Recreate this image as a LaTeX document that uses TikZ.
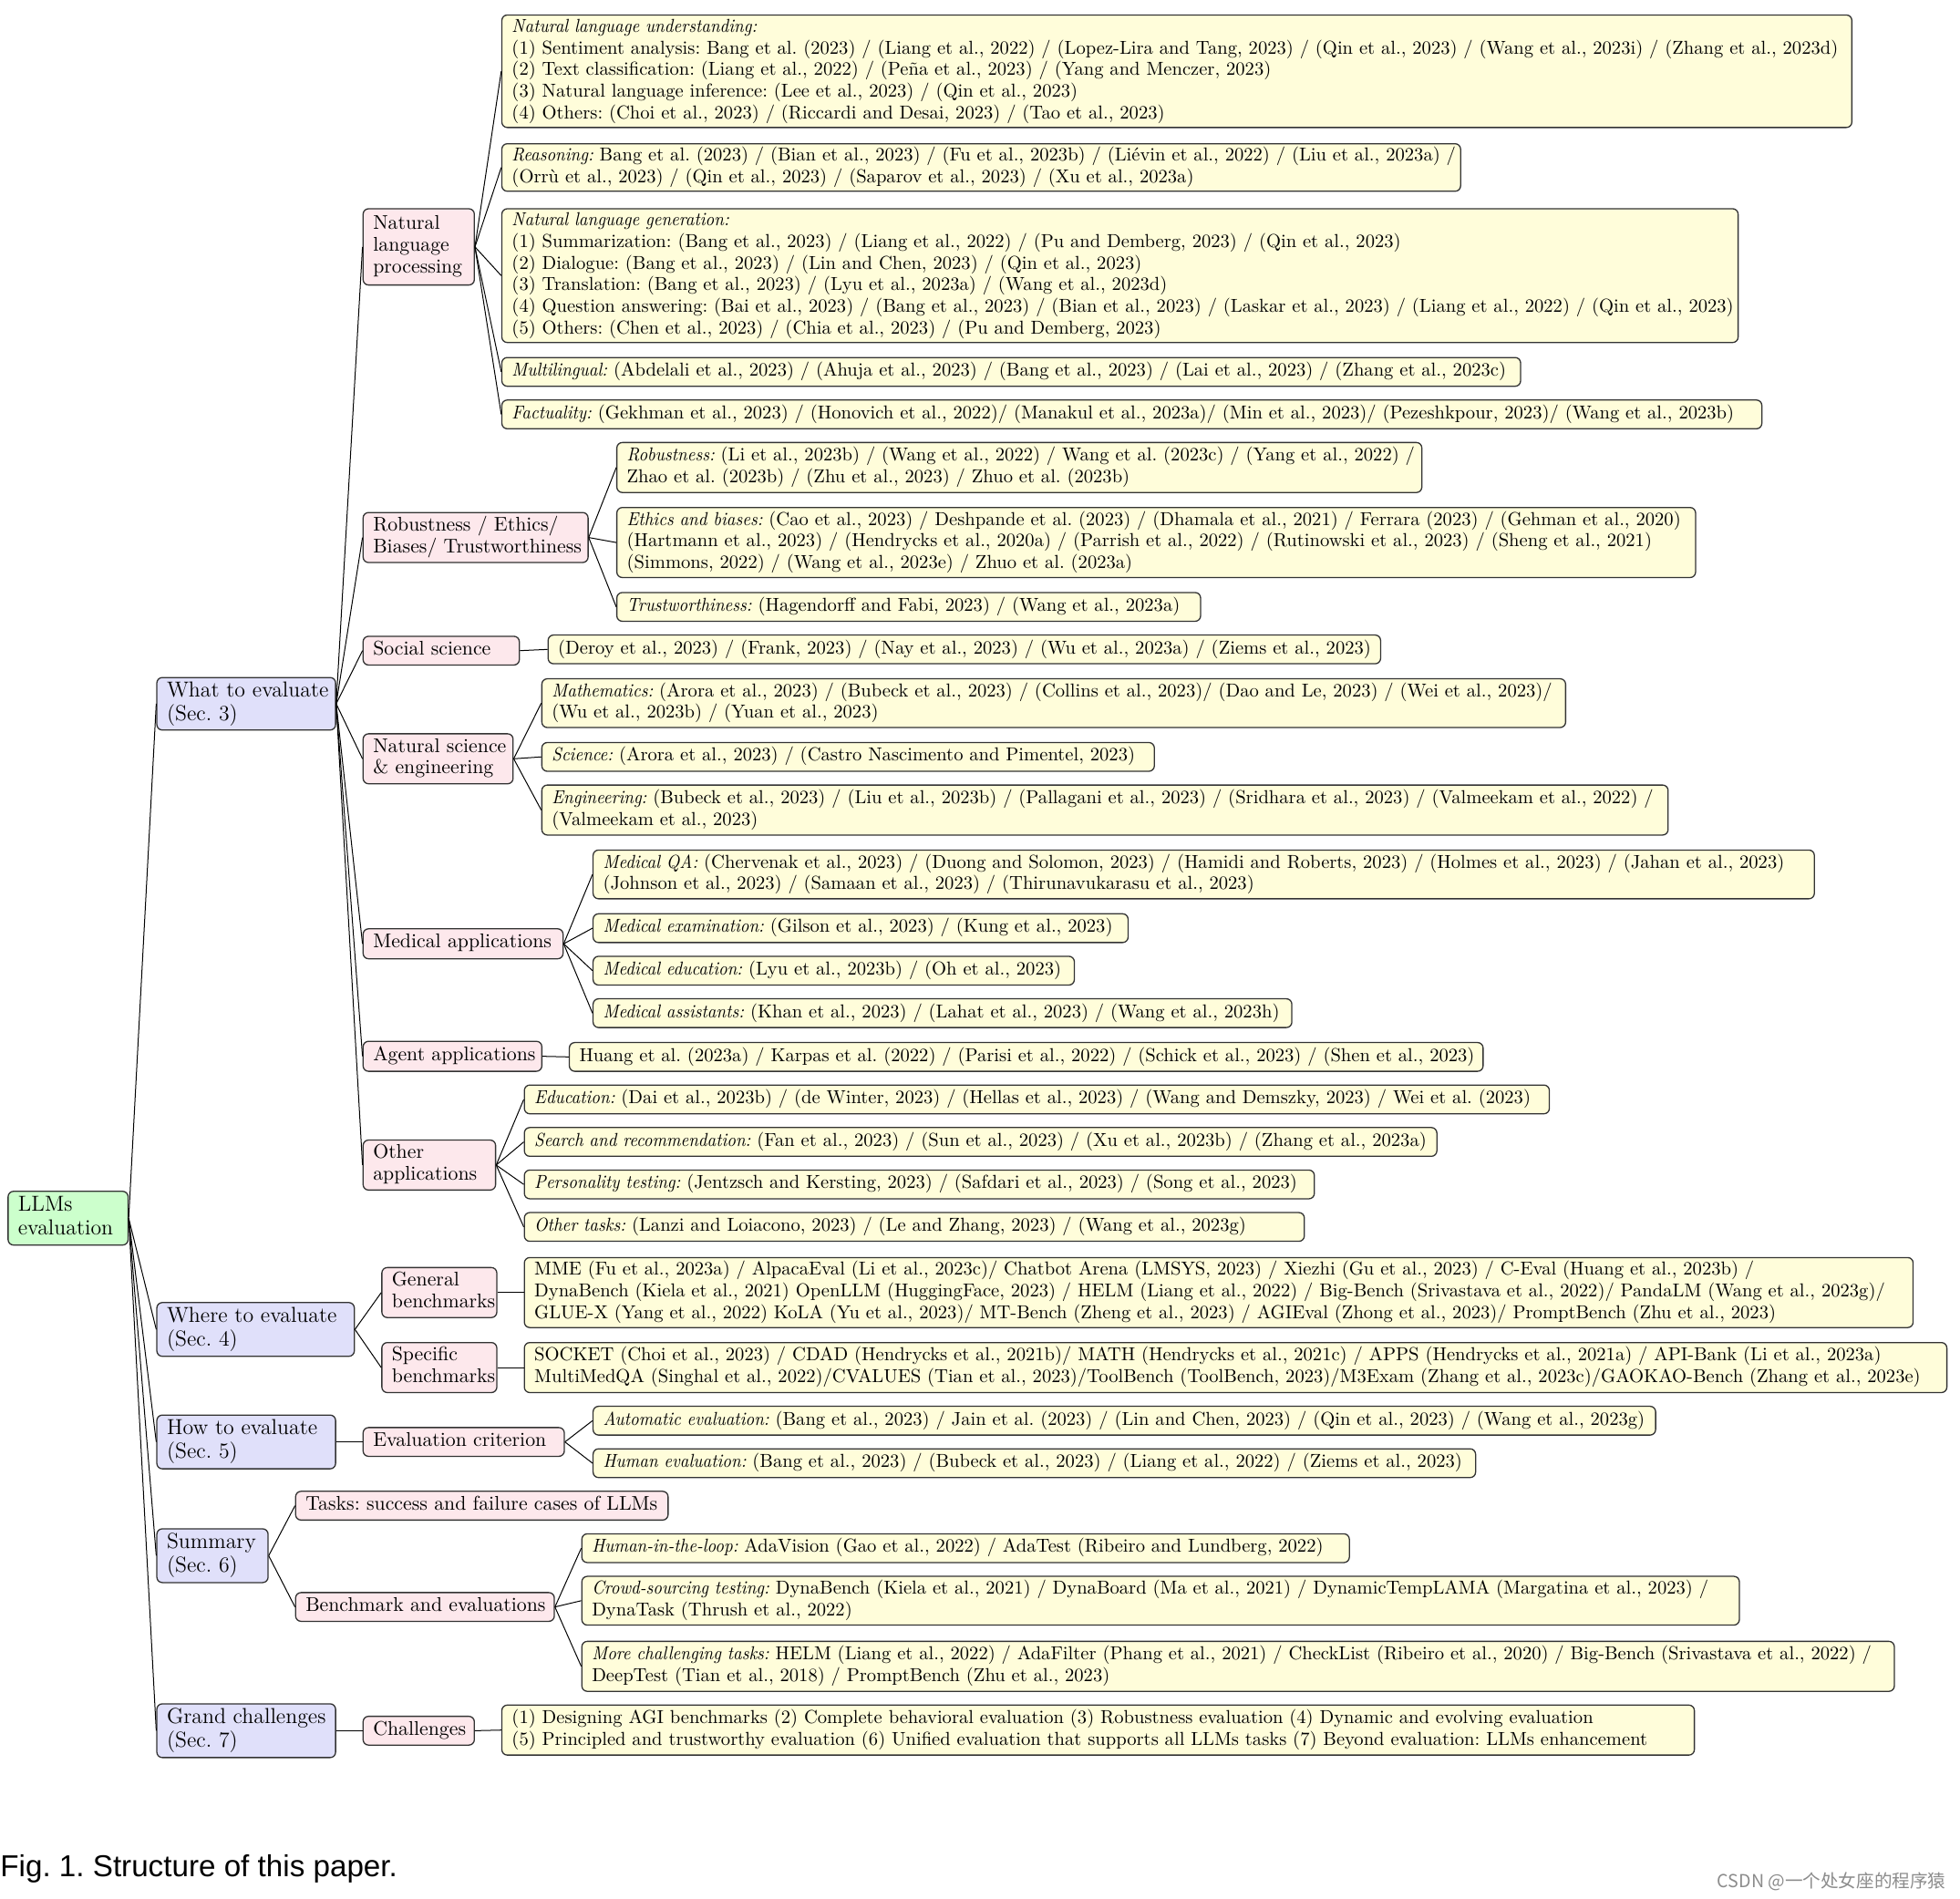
\documentclass[tikz,border=0pt]{standalone}
\usepackage{fontspec}
\usepackage{graphicx}
\newfontfamily\capfont{Liberation Sans}
\newfontfamily\cjk{Noto Sans CJK SC}
\definecolor{rootg}{RGB}{204,255,204}
\definecolor{lav}{RGB}{224,224,250}
\definecolor{pnk}{RGB}{253,232,236}
\definecolor{ylw}{RGB}{255,253,218}
\frenchspacing
\newcommand\lab[1]{\scalebox{0.92}[1]{\itshape #1}}
\tikzset{
  base/.style={draw=black!80, line width=0.65pt, rounded corners=3pt, inner xsep=5.5pt, inner ysep=1pt},
  lzero/.style={base, fill=rootg, font=\fontsize{11.9}{13}\selectfont},
  lone/.style={base, fill=lav, font=\fontsize{11.9}{13}\selectfont},
  ltwo/.style={base, fill=pnk, font=\fontsize{10.9}{11.86}\selectfont},
  lthree/.style={base, fill=ylw, font=\fontsize{10.3}{11.86}\selectfont},
  conn/.style={line width=0.5pt, black}
}
\newcommand\bx[7]{%
  \pgfmathsetlengthmacro\bxw{(#4-#2)*0.6856pt}%
  \pgfmathsetlengthmacro\bxh{(#5-#3)*0.6856pt}%
  \pgfmathsetlengthmacro\bxt{(#4-#2)*0.6856pt-11pt}%
  \pgfmathsetmacro\bxy{(#3+#5)/2}%
  \node[#6, anchor=west, minimum width=\bxw, minimum height=\bxh] (#1) at (#2,\bxy)
    {\makebox[\bxt][l]{\begin{tabular}{@{}l@{}}#7\end{tabular}}};}
\begin{document}
\begin{tikzpicture}[x=0.6856pt, y=-0.6856pt]
\useasboundingbox (0,0) rectangle (1568,1519);
% level 0 and 1
\bx{root}{6}{953}{102}{996}{lzero}{LLMs\\evaluation}
\bx{what}{125}{542}{268}{584}{lone}{What to evaluate\\(Sec. 3)}
\bx{where}{125}{1042}{283}{1085}{lone}{Where to evaluate\\(Sec. 4)}
\bx{how}{125}{1132}{268}{1175}{lone}{How to evaluate\\(Sec. 5)}
\bx{summ}{125}{1223}{214}{1266}{lone}{Summary\\(Sec. 6)}
\bx{grand}{125}{1363}{268}{1406}{lone}{Grand challenges\\(Sec. 7)}
% level 2 under What
\bx{nlp}{290}{167}{379}{228}{ltwo}{Natural\\language\\processing}
\bx{rob}{290}{410}{470}{450}{ltwo}{Robustness / Ethics/\\Biases/ Trustworthiness}
\bx{soc}{290}{509}{415}{532}{ltwo}{Social science}
\bx{nat}{290}{587}{410}{627}{ltwo}{Natural science\\\& engineering}
\bx{med}{290}{743}{450}{767}{ltwo}{Medical applications}
\bx{agent}{290}{833}{433}{857}{ltwo}{Agent applications}
\bx{other}{290}{912}{396}{952}{ltwo}{Other\\applications}
% level 3 under NLP
\bx{nlu}{401}{12}{1481}{102}{lthree}{\lab{Natural language understanding:}\\
(1) Sentiment analysis: Bang et al. (2023) / (Liang et al., 2022) / (Lopez-Lira and Tang, 2023) / (Qin et al., 2023) / (Wang et al., 2023i) / (Zhang et al., 2023d)\\
(2) Text classification: (Liang et al., 2022) / (Peña et al., 2023) / (Yang and Menczer, 2023)\\
(3) Natural language inference: (Lee et al., 2023) / (Qin et al., 2023)\\
(4) Others: (Choi et al., 2023) / (Riccardi and Desai, 2023) / (Tao et al., 2023)}
\bx{reas}{401}{115}{1168}{153}{lthree}{\lab{Reasoning:} Bang et al. (2023) / (Bian et al., 2023) / (Fu et al., 2023b) / (Liévin et al., 2022) / (Liu et al., 2023a) /\\
(Orrù et al., 2023) / (Qin et al., 2023) / (Saparov et al., 2023) / (Xu et al., 2023a)}
\bx{nlg}{401}{167}{1390}{274}{lthree}{\lab{Natural language generation:}\\
(1) Summarization: (Bang et al., 2023) / (Liang et al., 2022) / (Pu and Demberg, 2023) / (Qin et al., 2023)\\
(2) Dialogue: (Bang et al., 2023) / (Lin and Chen, 2023) / (Qin et al., 2023)\\
(3) Translation: (Bang et al., 2023) / (Lyu et al., 2023a) / (Wang et al., 2023d)\\
(4) Question answering: (Bai et al., 2023) / (Bang et al., 2023) / (Bian et al., 2023) / (Laskar et al., 2023) / (Liang et al., 2022) / (Qin et al., 2023)\\
(5) Others: (Chen et al., 2023) / (Chia et al., 2023) / (Pu and Demberg, 2023)}
\bx{multi}{401}{286}{1216}{309}{lthree}{\lab{Multilingual:} (Abdelali et al., 2023) / (Ahuja et al., 2023) / (Bang et al., 2023) / (Lai et al., 2023) / (Zhang et al., 2023c)}
\bx{fact}{401}{320}{1409}{343}{lthree}{\lab{Factuality:} (Gekhman et al., 2023) / (Honovich et al., 2022)/ (Manakul et al., 2023a)/ (Min et al., 2023)/ (Pezeshkpour, 2023)/ (Wang et al., 2023b)}
% under robustness
\bx{robu}{493}{354}{1137}{394}{lthree}{\lab{Robustness:} (Li et al., 2023b) / (Wang et al., 2022) / Wang et al. (2023c) / (Yang et al., 2022) /\\
Zhao et al. (2023b) / (Zhu et al., 2023) / Zhuo et al. (2023b)}
\bx{ethic}{493}{406}{1356}{462}{lthree}{\lab{Ethics and biases:} (Cao et al., 2023) / Deshpande et al. (2023) / (Dhamala et al., 2021) / Ferrara (2023) / (Gehman et al., 2020)\\
(Hartmann et al., 2023) / (Hendrycks et al., 2020a) / (Parrish et al., 2022) / (Rutinowski et al., 2023) / (Sheng et al., 2021)\\
(Simmons, 2022) / (Wang et al., 2023e) / Zhuo et al. (2023a)}
\bx{trust}{493}{474}{960}{497}{lthree}{\lab{Trustworthiness:} (Hagendorff and Fabi, 2023) / (Wang et al., 2023a)}
% social
\bx{socl}{438}{508}{1104}{531}{lthree}{(Deroy et al., 2023) / (Frank, 2023) / (Nay et al., 2023) / (Wu et al., 2023a) / (Ziems et al., 2023)}
% natural science
\bx{math}{433}{543}{1252}{582}{lthree}{\lab{Mathematics:} (Arora et al., 2023) / (Bubeck et al., 2023) / (Collins et al., 2023)/ (Dao and Le, 2023) / (Wei et al., 2023)/\\
(Wu et al., 2023b) / (Yuan et al., 2023)}
\bx{sci}{433}{594}{923}{617}{lthree}{\lab{Science:} (Arora et al., 2023) / (Castro Nascimento and Pimentel, 2023)}
\bx{eng}{433}{628}{1334}{668}{lthree}{\lab{Engineering:} (Bubeck et al., 2023) / (Liu et al., 2023b) / (Pallagani et al., 2023) / (Sridhara et al., 2023) / (Valmeekam et al., 2022) /\\
(Valmeekam et al., 2023)}
% medical
\bx{mqa}{474}{680}{1451}{719}{lthree}{\lab{Medical QA:} (Chervenak et al., 2023) / (Duong and Solomon, 2023) / (Hamidi and Roberts, 2023) / (Holmes et al., 2023) / (Jahan et al., 2023)\\
(Johnson et al., 2023) / (Samaan et al., 2023) / (Thirunavukarasu et al., 2023)}
\bx{mexam}{474}{731}{902}{754}{lthree}{\lab{Medical examination:} (Gilson et al., 2023) / (Kung et al., 2023)}
\bx{medu}{474}{765}{859}{788}{lthree}{\lab{Medical education:} (Lyu et al., 2023b) / (Oh et al., 2023)}
\bx{massist}{474}{799}{1033}{822}{lthree}{\lab{Medical assistants:} (Khan et al., 2023) / (Lahat et al., 2023) / (Wang et al., 2023h)}
% agent
\bx{agentl}{455}{834}{1186}{857}{lthree}{Huang et al. (2023a) / Karpas et al. (2022) / (Parisi et al., 2022) / (Schick et al., 2023) / (Shen et al., 2023)}
% other
\bx{educ}{419}{868}{1239}{891}{lthree}{\lab{Education:} (Dai et al., 2023b) / (de Winter, 2023) / (Hellas et al., 2023) / (Wang and Demszky, 2023) / Wei et al. (2023)}
\bx{search}{419}{902}{1149}{925}{lthree}{\lab{Search and recommendation:} (Fan et al., 2023) / (Sun et al., 2023) / (Xu et al., 2023b) / (Zhang et al., 2023a)}
\bx{pers}{419}{936}{1051}{959}{lthree}{\lab{Personality testing:} (Jentzsch and Kersting, 2023) / (Safdari et al., 2023) / (Song et al., 2023)}
\bx{otask}{419}{970}{1043}{993}{lthree}{\lab{Other tasks:} (Lanzi and Loiacono, 2023) / (Le and Zhang, 2023) / (Wang et al., 2023g)}
% where
\bx{genb}{305}{1014}{397}{1054}{ltwo}{General\\benchmarks}
\bx{specb}{305}{1074}{397}{1114}{ltwo}{Specific\\benchmarks}
\bx{genl}{419}{1006}{1530}{1062}{lthree}{MME (Fu et al., 2023a) / AlpacaEval (Li et al., 2023c)/ Chatbot Arena (LMSYS, 2023) / Xiezhi (Gu et al., 2023) / C-Eval (Huang et al., 2023b) /\\
DynaBench (Kiela et al., 2021) OpenLLM (HuggingFace, 2023) / HELM (Liang et al., 2022) / Big-Bench (Srivastava et al., 2022)/ PandaLM (Wang et al., 2023g)/\\
GLUE-X (Yang et al., 2022) KoLA (Yu et al., 2023)/ MT-Bench (Zheng et al., 2023) / AGIEval (Zhong et al., 2023)/ PromptBench (Zhu et al., 2023)}
\bx{specl}{419}{1074}{1557}{1114}{lthree}{SOCKET (Choi et al., 2023) / CDAD (Hendrycks et al., 2021b)/ MATH (Hendrycks et al., 2021c) / APPS (Hendrycks et al., 2021a) / API-Bank (Li et al., 2023a)\\
MultiMedQA (Singhal et al., 2022)/CVALUES (Tian et al., 2023)/ToolBench (ToolBench, 2023)/M3Exam (Zhang et al., 2023c)/GAOKAO-Bench (Zhang et al., 2023e)}
% how
\bx{crit}{290}{1142}{451}{1165}{ltwo}{Evaluation criterion}
\bx{auto}{474}{1125}{1324}{1148}{lthree}{\lab{Automatic evaluation:} (Bang et al., 2023) / Jain et al. (2023) / (Lin and Chen, 2023) / (Qin et al., 2023) / (Wang et al., 2023g)}
\bx{human}{474}{1159}{1180}{1182}{lthree}{\lab{Human evaluation:} (Bang et al., 2023) / (Bubeck et al., 2023) / (Liang et al., 2022) / (Ziems et al., 2023)}
% summary
\bx{tasks}{236}{1193}{534}{1216}{ltwo}{Tasks: success and failure cases of LLMs}
\bx{bench}{236}{1274}{443}{1297}{ltwo}{Benchmark and evaluations}
\bx{hitl}{465}{1227}{1079}{1250}{lthree}{\lab{Human-in-the-loop:} AdaVision (Gao et al., 2022) / AdaTest (Ribeiro and Lundberg, 2022)}
\bx{crowd}{465}{1261}{1391}{1300}{lthree}{\lab{Crowd-sourcing testing:} DynaBench (Kiela et al., 2021) / DynaBoard (Ma et al., 2021) / DynamicTempLAMA (Margatina et al., 2023) /\\
DynaTask (Thrush et al., 2022)}
\bx{morech}{465}{1313}{1515}{1353}{lthree}{\lab{More challenging tasks:} HELM (Liang et al., 2022) / AdaFilter (Phang et al., 2021) / CheckList (Ribeiro et al., 2020) / Big-Bench (Srivastava et al., 2022) /\\
DeepTest (Tian et al., 2018) / PromptBench (Zhu et al., 2023)}
% grand challenges
\bx{chal}{290}{1373}{379}{1396}{ltwo}{Challenges}
\bx{challl}{401}{1364}{1355}{1404}{lthree}{(1) Designing AGI benchmarks (2) Complete behavioral evaluation (3) Robustness evaluation (4) Dynamic and evolving evaluation\\
(5) Principled and trustworthy evaluation (6) Unified evaluation that supports all LLMs tasks (7) Beyond evaluation: LLMs enhancement}
% connectors
\foreach \c in {what,where,how,summ,grand} \draw[conn] (root.east) -- (\c.west);
\foreach \c in {nlp,rob,soc,nat,med,agent,other} \draw[conn] (what.east) -- (\c.west);
\foreach \c in {nlu,reas,nlg,multi,fact} \draw[conn] (nlp.east) -- (\c.west);
\foreach \c in {robu,ethic,trust} \draw[conn] (rob.east) -- (\c.west);
\draw[conn] (soc.east) -- (socl.west);
\foreach \c in {math,sci,eng} \draw[conn] (nat.east) -- (\c.west);
\foreach \c in {mqa,mexam,medu,massist} \draw[conn] (med.east) -- (\c.west);
\draw[conn] (agent.east) -- (agentl.west);
\foreach \c in {educ,search,pers,otask} \draw[conn] (other.east) -- (\c.west);
\foreach \c in {genb,specb} \draw[conn] (where.east) -- (\c.west);
\draw[conn] (genb.east) -- (genl.west);
\draw[conn] (specb.east) -- (specl.west);
\draw[conn] (how.east) -- (crit.west);
\foreach \c in {auto,human} \draw[conn] (crit.east) -- (\c.west);
\foreach \c in {tasks,bench} \draw[conn] (summ.east) -- (\c.west);
\foreach \c in {hitl,crowd,morech} \draw[conn] (bench.east) -- (\c.west);
\draw[conn] (grand.east) -- (chal.west);
\draw[conn] (chal.east) -- (challl.west);
% caption and watermark
\node[anchor=west, inner sep=0pt, font=\capfont\fontsize{16.6}{19}\selectfont] (cap) at (0,1495) {Fig. 1. Structure of this paper.};
\node[anchor=east, inner sep=0pt, text=black!45, font=\cjk\fontsize{9.8}{11}\selectfont] (wm) at (1557,1505) {CSDN @一个处女座的程序猿};
\end{tikzpicture}
\end{document}
